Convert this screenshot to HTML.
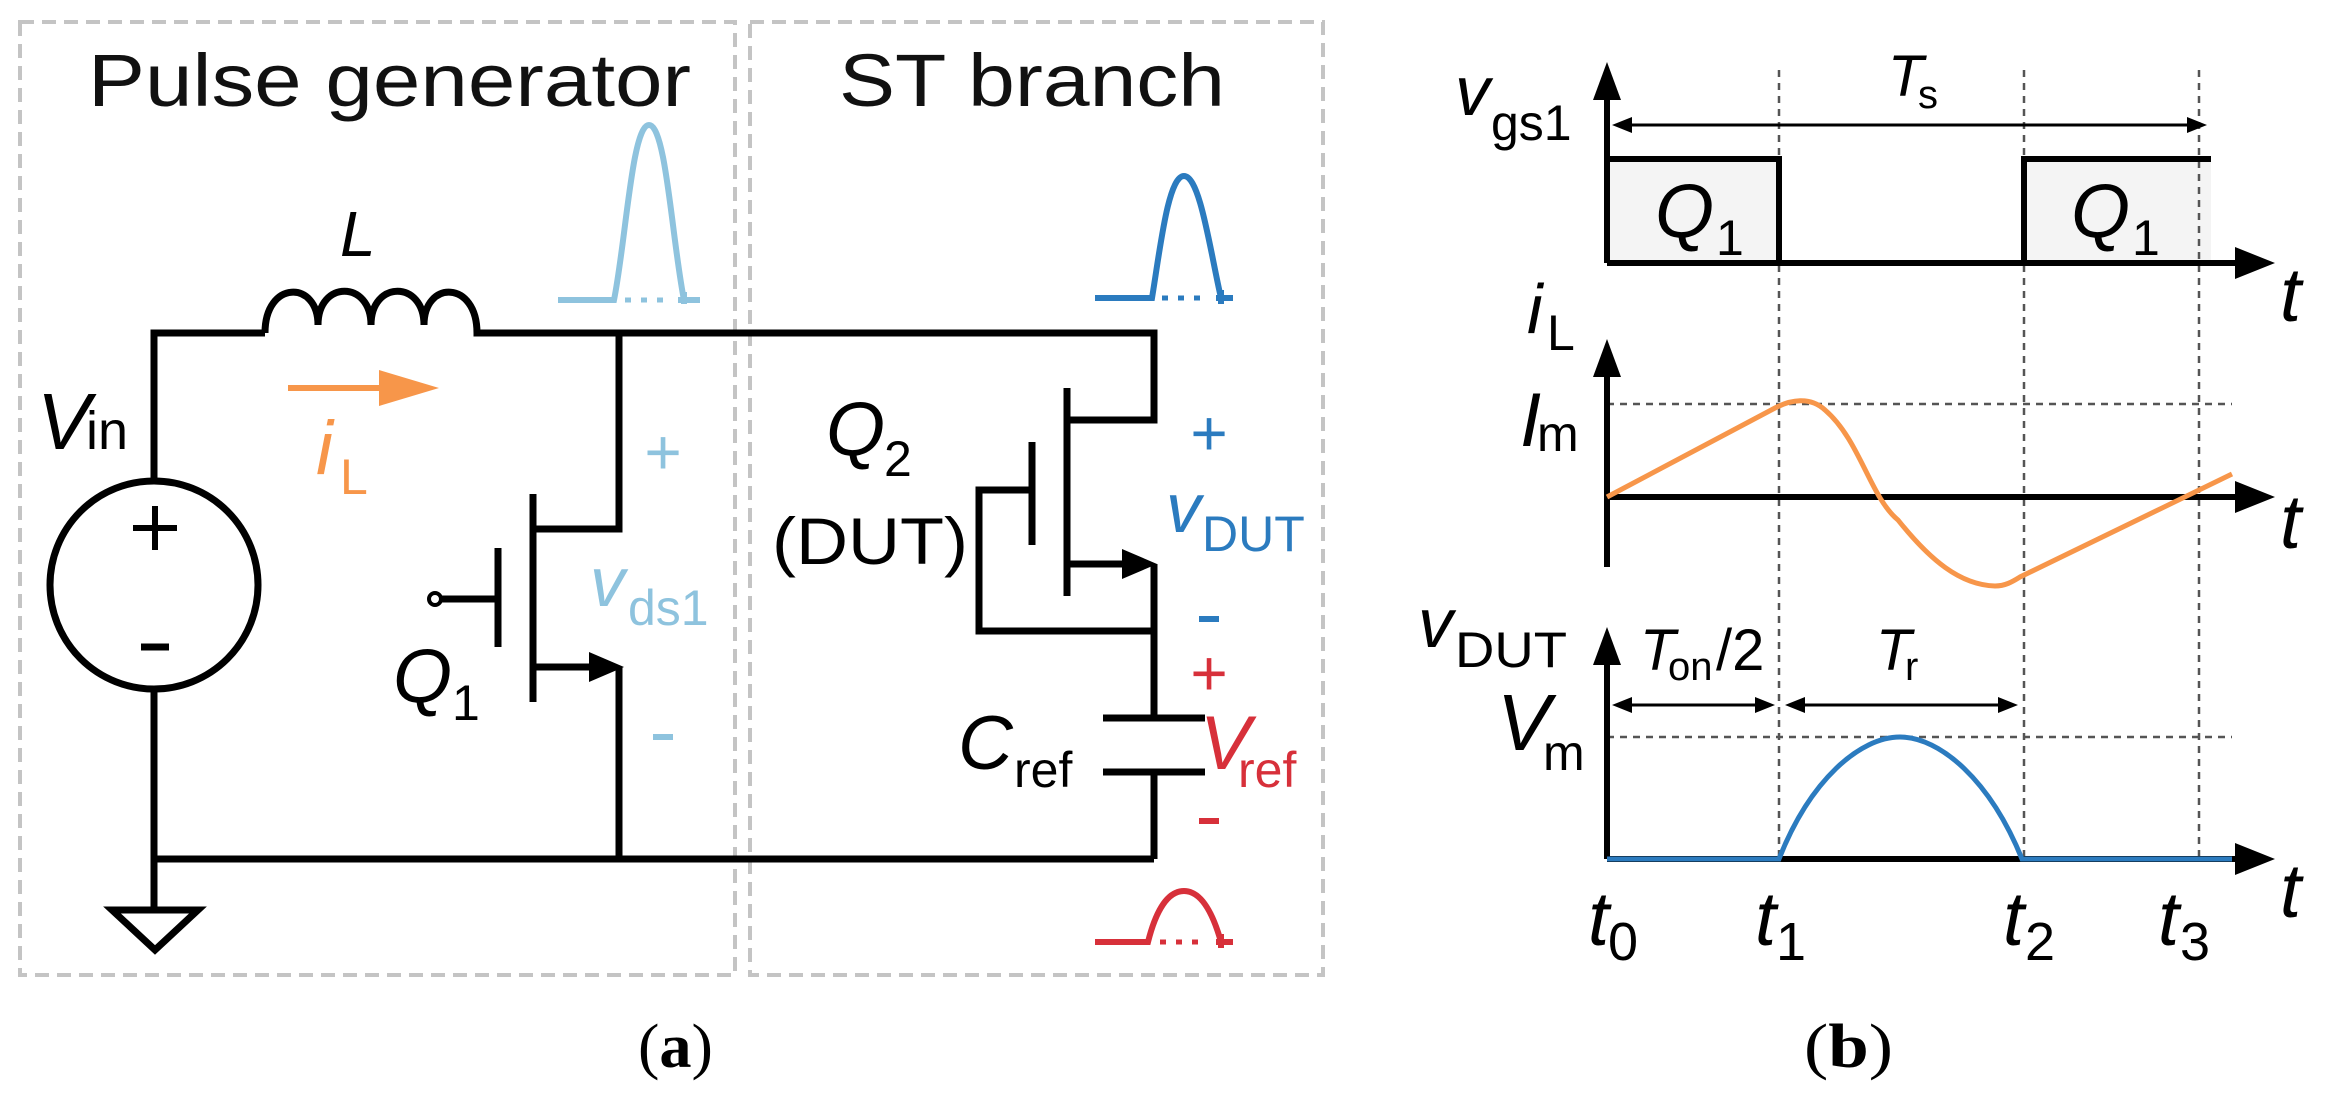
<!DOCTYPE html>
<html><head><meta charset="utf-8"><style>
html,body{margin:0;padding:0;background:#fff;}
svg{display:block;}
text{font-family:"Liberation Sans",Arial,sans-serif;}
.i{font-style:italic;}
</style></head><body>
<svg width="2328" height="1102" viewBox="0 0 2328 1102" xmlns="http://www.w3.org/2000/svg">
<!-- dashed boxes -->
<g fill="none" stroke="#c4c4c4" stroke-width="4" stroke-dasharray="14,8">
<rect x="20" y="22" width="715" height="953"/>
<rect x="750" y="22" width="573" height="953"/>
</g>
<text x="88" y="106" font-size="74" textLength="603" lengthAdjust="spacingAndGlyphs" fill="#111">Pulse generator</text>
<text x="839" y="106" font-size="74" textLength="386" lengthAdjust="spacingAndGlyphs" fill="#111">ST branch</text>

<g fill="none" stroke="#000" stroke-width="7" stroke-linejoin="miter">
<circle cx="154" cy="585" r="104"/>
<path d="M154,481 V333 H265"/>
<path d="M265,333 C265,280 318,280 318,325 C318,280 371,280 371,325 C371,280 424,280 424,325 C424,280 477,280 477,333 H1154 V420 H1067"/>
<path d="M154,689 V910"/>
<path d="M154,859 H1154"/>
<path d="M112,910 H198 L155,950 Z"/>
<path d="M619,333 V529 H533"/>
<path d="M533,494 V702"/>
<path d="M498,548 V647"/>
<path d="M441,599 H498"/>
<path d="M533,667 H595"/>
<path d="M619,667 V859"/>
<path d="M1067,388 V596"/>
<path d="M1032,442 V545"/>
<path d="M1032,490 H979 V631 H1154"/>
<path d="M1067,564 H1130"/>
<path d="M1154,564 V718"/>
<path d="M1103,718 H1205 M1103,772 H1205"/>
<path d="M1154,772 V859"/>
</g>
<circle cx="435" cy="599" r="6" fill="#fff" stroke="#000" stroke-width="4"/>
<path d="M589,652 L624,667 L589,682 Z" fill="#000"/>
<path d="M1122,549 L1157,564 L1122,579 Z" fill="#000"/>
<path d="M133,528 H177 M155,506 V550" stroke="#000" stroke-width="6"/>
<path d="M141,647 H169" stroke="#000" stroke-width="7"/>

<text class="i" x="37" y="449" font-size="80">V</text><text x="86" y="449" font-size="54">in</text>
<text class="i" x="340" y="256" font-size="64">L</text>
<text class="i" x="393" y="702" font-size="76">Q</text><text x="452" y="720" font-size="50">1</text>
<text class="i" x="826" y="455" font-size="76">Q</text><text x="884" y="476" font-size="50">2</text>
<text x="772" y="564" font-size="66" textLength="196" lengthAdjust="spacingAndGlyphs">(DUT)</text>
<text class="i" x="958" y="769" font-size="76">C</text><text x="1014" y="787" font-size="50">ref</text>

<path d="M288,388 H400" stroke="#f7964a" stroke-width="6"/>
<path d="M379,370 L439,388 L379,406 Z" fill="#f7964a"/>
<text class="i" x="316" y="474" font-size="76" fill="#f7964a">i</text><text x="340" y="494" font-size="50" fill="#f7964a">L</text>

<g fill="#8ec3de">
<text x="663" y="474" font-size="64" text-anchor="middle">+</text>
<rect x="653" y="734" width="20" height="6"/>
<text class="i" x="590" y="606" font-size="70">v</text><text x="628" y="625" font-size="50">ds1</text>
</g>
<path d="M558,300 H614 C626,240 632,125 649,125 C666,125 672,240 684,300" fill="none" stroke="#8ec3de" stroke-width="6"/>
<path d="M684,292 V304 M678,300 H700" stroke="#8ec3de" stroke-width="6"/>
<path d="M625,300 h6 M641,300 h6 M657,300 h6" stroke="#8ec3de" stroke-width="5"/>

<g fill="#2b7bbf">
<text x="1209" y="455" font-size="64" text-anchor="middle">+</text>
<rect x="1199" y="616" width="20" height="6"/>
<text class="i" x="1166" y="532" font-size="70">v</text><text x="1202" y="551" font-size="50">DUT</text>
</g>
<path d="M1095,298 H1152 C1160,250 1168,176 1184,176 C1200,176 1210,250 1221,298 M1221,290 V304 M1216,298 H1233" fill="none" stroke="#2b7bbf" stroke-width="6"/>
<path d="M1162,298 h6 M1178,298 h6 M1194,298 h6" stroke="#2b7bbf" stroke-width="5"/>

<g fill="#d7303a">
<text x="1209" y="695" font-size="64" text-anchor="middle">+</text>
<rect x="1199" y="818" width="20" height="6"/>
<text class="i" x="1200" y="769" font-size="76">V</text><text x="1238" y="787" font-size="50">ref</text>
</g>
<path d="M1095,942 H1148 C1156,910 1168,891 1184,891 C1200,891 1212,910 1221,942 M1221,934 V948 M1216,942 H1233" fill="none" stroke="#d7303a" stroke-width="6"/>
<path d="M1160,942 h6 M1176,942 h6 M1192,942 h6" stroke="#d7303a" stroke-width="5"/>

<rect x="1607" y="159" width="172" height="104" fill="#f4f4f4"/>
<rect x="2024" y="159" width="187" height="104" fill="#f4f4f4"/>
<g stroke="#555" stroke-width="2.5" stroke-dasharray="7,6" fill="none">
<path d="M1779,70 V859 M2024,70 V859 M2199,70 V859"/>
<path d="M1607,404 H2232 M1607,737 H2232"/>
</g>
<g stroke="#000" stroke-width="6" fill="none">
<path d="M1607,263 V95 M1607,263 H2245"/>
<path d="M1607,567 V372 M1607,497 H2245"/>
<path d="M1607,859 V660 M1607,859 H2245"/>
<path d="M1607,263 V159 H1779 V263 M2024,263 V159 H2211"/>
</g>
<g fill="#000">
<path d="M1593,100 L1607,62 L1621,100 Z"/>
<path d="M1593,377 L1607,339 L1621,377 Z"/>
<path d="M1593,665 L1607,627 L1621,665 Z"/>
<path d="M2235,247 L2275,263 L2235,279 Z"/>
<path d="M2235,481 L2275,497 L2235,513 Z"/>
<path d="M2235,843 L2275,859 L2235,875 Z"/>
</g>
<g stroke="#000" stroke-width="3" fill="none">
<path d="M1625,125 H2195"/>
<path d="M1625,705 H1762 M1798,705 H2006"/>
</g>
<g fill="#000">
<path d="M1612,125 L1632,117 L1632,133 Z"/><path d="M2207,125 L2187,117 L2187,133 Z"/>
<path d="M1612,705 L1632,697 L1632,713 Z"/><path d="M1775,705 L1755,697 L1755,713 Z"/>
<path d="M1785,705 L1805,697 L1805,713 Z"/><path d="M2018,705 L1998,697 L1998,713 Z"/>
</g>
<path d="M1607,497 L1775,408 C1790,400 1810,396 1825,410 C1860,440 1870,497 1898,520 C1930,560 1960,585 1995,586 C2005,586 2012,582 2020,577 L2232,474" fill="none" stroke="#f7964a" stroke-width="5"/>
<path d="M1607,859 H1779 C1810,780 1860,737 1900,737 C1940,737 1990,780 2022,859 H2232" fill="none" stroke="#2b7bbf" stroke-width="5"/>

<g fill="#000">
<text class="i" x="1455" y="115" font-size="70">v</text><text x="1491" y="140" font-size="50">gs1</text>
<text class="i" x="1888" y="96" font-size="58">T</text><text x="1918" y="108" font-size="40">s</text>
<text class="i" x="1655" y="237" font-size="76">Q</text><text x="1716" y="255" font-size="50">1</text>
<text class="i" x="2071" y="237" font-size="76">Q</text><text x="2132" y="255" font-size="50">1</text>
<text class="i" x="2280" y="321" font-size="76">t</text>
<text class="i" x="2280" y="548" font-size="76">t</text>
<text class="i" x="2280" y="917" font-size="76">t</text>
<text class="i" x="1527" y="333" font-size="70">i</text><text x="1547" y="350" font-size="50">L</text>
<text class="i" x="1520" y="446" font-size="76">I</text><text x="1537" y="451" font-size="50">m</text>
<text class="i" x="1418" y="647" font-size="70">v</text><text x="1455" y="667" font-size="50" textLength="112" lengthAdjust="spacingAndGlyphs">DUT</text>
<text class="i" x="1497" y="750" font-size="80">V</text><text x="1543" y="770" font-size="50">m</text>
<text class="i" x="1640" y="670" font-size="58">T</text><text x="1668" y="680" font-size="40">on</text><text x="1716" y="670" font-size="58">/2</text>
<text class="i" x="1876" y="670" font-size="58">T</text><text x="1905" y="680" font-size="40">r</text>
<text class="i" x="1588" y="945" font-size="76">t</text><text x="1608" y="960" font-size="54">0</text>
<text class="i" x="1755" y="945" font-size="76">t</text><text x="1776" y="960" font-size="54">1</text>
<text class="i" x="2003" y="945" font-size="76">t</text><text x="2025" y="960" font-size="54">2</text>
<text class="i" x="2158" y="945" font-size="76">t</text><text x="2180" y="960" font-size="54">3</text>
</g>
<text x="638" y="1067" font-size="62" textLength="75" lengthAdjust="spacingAndGlyphs" style="font-family:'Liberation Serif',serif">(<tspan font-weight="bold">a</tspan>)</text>
<text x="1804" y="1067" font-size="62" textLength="89" lengthAdjust="spacingAndGlyphs" style="font-family:'Liberation Serif',serif">(<tspan font-weight="bold">b</tspan>)</text>
</svg>
</body></html>
